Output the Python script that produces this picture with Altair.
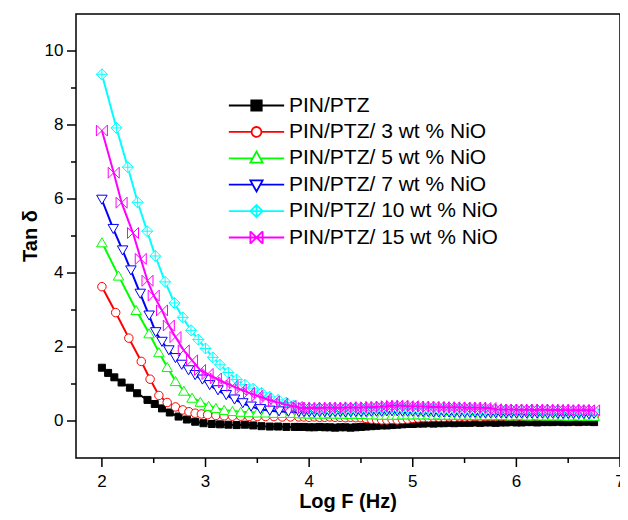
import altair as alt
import pandas as pd

names = ["PIN/PTZ", "PIN/PTZ/ 3 wt % NiO", "PIN/PTZ/ 5 wt % NiO",
         "PIN/PTZ/ 7 wt % NiO", "PIN/PTZ/ 10 wt % NiO", "PIN/PTZ/ 15 wt % NiO"]
colors = ["#000000", "#FF0000", "#00FF00", "#0000FF", "#00FFFF", "#FF00FF"]

# axis tick values and titles
x_major = [2, 3, 4, 5, 6, 7]
x_minor = [2.5, 3.5, 4.5, 5.5, 6.5]
y_major = [0, 2, 4, 6, 8, 10]
y_minor = [1, 3, 5, 7, 9]
x_title = "Log F (Hz)"
y_title = "Tan δ"

flat_x = [3.90, 3.95, 4.00, 4.05, 4.10, 4.15, 4.20, 4.25, 4.30, 4.35, 4.40, 4.45, 4.50,
          4.55, 4.60, 4.65, 4.70, 4.75, 4.80, 4.85, 4.90, 4.95, 5.00,
          5.05, 5.10, 5.15, 5.20, 5.25, 5.30, 5.35, 5.40, 5.45, 5.50, 5.55, 5.60, 5.65, 5.70,
          5.75, 5.80, 5.85, 5.90, 5.95, 6.00, 6.05, 6.10, 6.15, 6.20, 6.25, 6.30, 6.35, 6.40,
          6.45, 6.50, 6.55, 6.60, 6.65, 6.70, 6.75]

x_black = [2.00, 2.06, 2.12, 2.19, 2.27, 2.34, 2.44, 2.51, 2.58, 2.655, 2.74, 2.82, 2.90,
           2.98, 3.06, 3.14, 3.22, 3.30, 3.38, 3.46, 3.54, 3.62, 3.70, 3.78, 3.86]
y_black = [1.44, 1.30, 1.18, 1.04, 0.90, 0.75, 0.57, 0.46, 0.34, 0.23, 0.12, 0.04, -0.02,
           -0.06, -0.08, -0.09, -0.10, -0.11, -0.10, -0.12, -0.14, -0.15, -0.15, -0.16, -0.16]
f_black = [-0.16, -0.16, -0.17, -0.17, -0.16, -0.17, -0.17, -0.18, -0.17, -0.17, -0.18, -0.17, -0.16,
           -0.15, -0.14, -0.13, -0.12, -0.12, -0.11, -0.10, -0.09, -0.08, -0.08,
           -0.07, -0.07, -0.06, -0.07, -0.06, -0.06, -0.05, -0.06, -0.05, -0.05,
           -0.05, -0.04, -0.05, -0.04, -0.04, -0.05, -0.04, -0.04, -0.03, -0.04,
           -0.04, -0.03, -0.03, -0.04, -0.03, -0.03, -0.03, -0.02, -0.03, -0.03,
           -0.02, -0.03, -0.02, -0.02, -0.03]

x_red = [2.00, 2.133, 2.26, 2.38, 2.465, 2.55, 2.63, 2.71, 2.78, 2.84, 2.90, 2.96, 3.02,
         3.10, 3.18, 3.26, 3.34, 3.42, 3.50, 3.58, 3.66, 3.74, 3.82]
y_red = [3.63, 2.93, 2.24, 1.61, 1.13, 0.69, 0.50, 0.38, 0.30, 0.25, 0.21, 0.19, 0.17,
         0.15, 0.14, 0.13, 0.13, 0.12, 0.12, 0.12, 0.12, 0.11, 0.11]
f_red = [0.11, 0.11, 0.10, 0.11, 0.10, 0.10, 0.11, 0.10, 0.10, 0.09, 0.10, 0.09, 0.09,
         0.07, 0.05, 0.04, 0.03, 0.03, 0.04, 0.03, 0.04, 0.05, 0.07,
         0.08, 0.09, 0.09, 0.10, 0.10, 0.10, 0.11, 0.10, 0.11, 0.11,
         0.11, 0.12, 0.11, 0.12, 0.12, 0.12, 0.13, 0.12, 0.13, 0.12,
         0.13, 0.13, 0.12, 0.13, 0.13, 0.13, 0.12, 0.13, 0.13, 0.12,
         0.13, 0.13, 0.12, 0.13, 0.12]

x_green = [2.00, 2.16, 2.33, 2.455, 2.55, 2.63, 2.71, 2.79, 2.87, 2.95, 3.03, 3.10, 3.18,
           3.26, 3.34, 3.42, 3.50, 3.58, 3.66, 3.74, 3.82]
y_green = [4.83, 3.93, 3.00, 2.37, 1.86, 1.46, 1.08, 0.82, 0.63, 0.52, 0.41, 0.35, 0.30,
           0.27, 0.25, 0.24, 0.23, 0.23, 0.22, 0.22, 0.22]
f_green = [0.21, 0.21, 0.20, 0.21, 0.20, 0.20, 0.21, 0.20, 0.20, 0.20, 0.19, 0.20, 0.19,
           0.19, 0.18, 0.18, 0.17, 0.17, 0.17, 0.17, 0.18, 0.18, 0.18,
           0.18, 0.18, 0.18, 0.17, 0.18, 0.17, 0.17, 0.17, 0.17, 0.17,
           0.17, 0.16, 0.17, 0.16, 0.16, 0.16, 0.16, 0.16, 0.15, 0.16,
           0.16, 0.15, 0.15, 0.16, 0.15, 0.15, 0.15, 0.15, 0.15, 0.14,
           0.15, 0.15, 0.14, 0.15, 0.14]

x_blue = [2.00, 2.11, 2.20, 2.28, 2.37, 2.456, 2.52, 2.58, 2.646, 2.71, 2.77, 2.836, 2.90,
          2.97, 3.04, 3.12, 3.20, 3.28, 3.36, 3.44, 3.53, 3.62, 3.71, 3.80]
y_blue = [5.98, 5.19, 4.61, 4.07, 3.44, 2.85, 2.40, 2.14, 1.91, 1.70, 1.52, 1.37, 1.24,
          1.12, 0.97, 0.83, 0.70, 0.58, 0.48, 0.39, 0.32, 0.28, 0.26, 0.25]
f_blue = [0.24, 0.24, 0.24, 0.23, 0.24, 0.24, 0.23, 0.24, 0.24, 0.23, 0.24, 0.24, 0.24,
          0.24, 0.25, 0.25, 0.25, 0.26, 0.26, 0.26, 0.25, 0.25, 0.25,
          0.24, 0.24, 0.24, 0.23, 0.23, 0.23, 0.23, 0.22, 0.22, 0.22,
          0.22, 0.22, 0.21, 0.21, 0.21, 0.21, 0.21, 0.20, 0.21, 0.20,
          0.20, 0.20, 0.20, 0.20, 0.20, 0.19, 0.20, 0.19, 0.19, 0.19,
          0.19, 0.19, 0.19, 0.18, 0.19]

x_cyan = [2.00, 2.14, 2.25, 2.345, 2.437, 2.515, 2.61, 2.70, 2.78, 2.86, 2.93, 3.00, 3.07,
          3.14, 3.22, 3.30, 3.38, 3.46, 3.54, 3.62, 3.70, 3.78, 3.85]
y_cyan = [9.37, 7.92, 6.86, 5.91, 5.13, 4.46, 3.76, 3.19, 2.80, 2.45, 2.20, 1.96, 1.72,
          1.52, 1.31, 1.12, 0.98, 0.87, 0.76, 0.65, 0.57, 0.50, 0.42]
f_cyan = [0.36, 0.34, 0.33, 0.33, 0.32, 0.33, 0.32, 0.32, 0.33, 0.32, 0.32, 0.33, 0.33,
          0.33, 0.34, 0.34, 0.35, 0.36, 0.36, 0.36, 0.35, 0.35, 0.34,
          0.34, 0.33, 0.33, 0.33, 0.32, 0.32, 0.32, 0.32, 0.32, 0.31,
          0.31, 0.31, 0.31, 0.30, 0.30, 0.30, 0.30, 0.29, 0.30, 0.29,
          0.29, 0.29, 0.29, 0.29, 0.28, 0.29, 0.28, 0.28, 0.28, 0.28,
          0.28, 0.27, 0.28, 0.28, 0.27]

x_mag = [2.00, 2.114, 2.19, 2.30, 2.375, 2.44, 2.50, 2.58, 2.646, 2.71, 2.79, 2.87, 2.947,
         3.02, 3.10, 3.18, 3.26, 3.34, 3.42, 3.50, 3.58, 3.66, 3.74, 3.82, 3.88]
y_mag = [7.85, 6.71, 5.90, 5.08, 4.38, 3.79, 3.39, 2.99, 2.58, 2.27, 1.91, 1.64, 1.38,
         1.27, 1.15, 1.04, 0.95, 0.85, 0.76, 0.68, 0.60, 0.53, 0.47, 0.41, 0.38]
f_mag = [0.36, 0.35, 0.35, 0.36, 0.35, 0.36, 0.36, 0.35, 0.36, 0.36, 0.37, 0.36, 0.37,
         0.37, 0.38, 0.38, 0.39, 0.40, 0.41, 0.41, 0.41, 0.40, 0.40,
         0.39, 0.39, 0.38, 0.38, 0.38, 0.37, 0.37, 0.37, 0.37, 0.36,
         0.36, 0.36, 0.36, 0.35, 0.35, 0.32, 0.31, 0.31, 0.31, 0.31,
         0.30, 0.31, 0.30, 0.30, 0.31, 0.30, 0.30, 0.30, 0.30, 0.29,
         0.30, 0.29, 0.30, 0.29, 0.29]

series_x = [x_black, x_red, x_green, x_blue, x_cyan, x_mag]
series_y = [y_black, y_red, y_green, y_blue, y_cyan, y_mag]
series_f = [f_black, f_red, f_green, f_blue, f_cyan, f_mag]

rows = []
for name, xs, ys, fs in zip(names, series_x, series_y, series_f):
    for xv, yv in zip(xs + flat_x, ys + fs):
        rows.append({"series": name, "x": xv, "y": yv})
df = pd.DataFrame(rows)

marker_shapes = ["square", "circle", "triangle-up", "triangle-down",
                 "M0,-1L1,0L0,1L-1,0ZM0,-1V1M-1,0H1",
                 "M-1,-1L1,1M1,-1L-1,1M-1,-1V1M1,-1V1"]
marker_sizes = [49, 72, 110, 110, 121, 121]
marker_fills = ["#000000", "white", "white", "white", "white", "transparent"]

legend_shapes = [
    "M-4.5,0H4.5M-0.85,-0.85H0.85V0.85H-0.85Z",
    "M-4.5,0H-0.8M0.8,0H4.5M-0.8,0A0.8,0.8,0,1,0,0.8,0A0.8,0.8,0,1,0,-0.8,0Z",
    "M-4.5,0H-0.61M0.61,0H4.5M0,-1.1L1,0.7L-1,0.7Z",
    "M-4.5,0H-0.61M0.61,0H4.5M0,1.1L1,-0.7L-1,-0.7Z",
    "M-4.5,0H4.5M0,-1L1,0L0,1L-1,0ZM0,-1V1",
    "M-4.5,0H4.5M-1,-1L1,1M1,-1L-1,1M-1,-1V1M1,-1V1",
]
legend_fills = ["#000000", "white", "white", "white", "white", "transparent"]

x_lo, x_hi = 1.75, 7
y_lo, y_hi = -1, 11
xscale = alt.Scale(domain=[x_lo, x_hi], nice=False, zero=False)
yscale = alt.Scale(domain=[y_lo, y_hi], nice=False, zero=False)
FONT = "Liberation Sans"

base = alt.Chart(df)
layers = []
for i, name in enumerate(names):
    sub = base.transform_filter(alt.datum.series == name)
    line = sub.mark_line(color=colors[i], strokeWidth=2).encode(
        x=alt.X("x:Q", scale=xscale, axis=None),
        y=alt.Y("y:Q", scale=yscale, axis=None),
    )
    pts = sub.mark_point(shape=marker_shapes[i], size=marker_sizes[i], filled=True,
                         fill=marker_fills[i], stroke=colors[i], strokeWidth=1,
                         opacity=1).encode(
        x=alt.X("x:Q", axis=None),
        y=alt.Y("y:Q", axis=None),
    )
    layers += [line, pts]

# tick marks drawn outward from the frame
def xticks(vals, length):
    tdf = pd.DataFrame({"v": vals, "b": [y_lo] * len(vals)})
    return alt.Chart(tdf).mark_tick(
        orient="vertical", size=length, thickness=1.5, color="black", opacity=1,
        yOffset=length / 2).encode(
        x=alt.X("v:Q", axis=None), y=alt.Y("b:Q", axis=None))

def yticks(vals, length):
    tdf = pd.DataFrame({"v": vals, "b": [x_lo] * len(vals)})
    return alt.Chart(tdf).mark_tick(
        orient="horizontal", size=length, thickness=1.5, color="black", opacity=1,
        xOffset=-length / 2).encode(
        y=alt.Y("v:Q", axis=None), x=alt.X("b:Q", axis=None))

layers += [xticks(x_major, 9), xticks(x_minor, 5), yticks(y_major, 9), yticks(y_minor, 5)]

# tick labels
xl_df = pd.DataFrame({"v": x_major, "b": [y_lo] * len(x_major)})
x_labels = alt.Chart(xl_df).mark_text(
    font=FONT, fontSize=17, color="black", align="center", baseline="middle",
    yOffset=24).encode(
    x=alt.X("v:Q", axis=None), y=alt.Y("b:Q", axis=None), text=alt.Text("v:Q", format="d"))

yl_df = pd.DataFrame({"v": y_major, "b": [x_lo] * len(y_major)})
y_labels = alt.Chart(yl_df).mark_text(
    font=FONT, fontSize=17, color="black", align="right", baseline="middle",
    xOffset=-12.5).encode(
    y=alt.Y("v:Q", axis=None), x=alt.X("b:Q", axis=None), text=alt.Text("v:Q", format="d"))

# axis titles, centred on each axis
xt_df = pd.DataFrame({"t": [x_title], "px": [(x_lo + x_hi) / 2], "py": [y_lo]})
x_title_mark = alt.Chart(xt_df).mark_text(
    font=FONT, fontSize=20, fontWeight="bold", color="black", align="center",
    baseline="alphabetic", yOffset=50).encode(
    x=alt.X("px:Q", axis=None), y=alt.Y("py:Q", axis=None), text="t:N")

yt_df = pd.DataFrame({"t": [y_title], "px": [x_lo], "py": [(y_lo + y_hi) / 2]})
y_title_mark = alt.Chart(yt_df).mark_text(
    font=FONT, fontSize=20, fontWeight="bold", color="black", align="center",
    baseline="middle", angle=270, xOffset=-45).encode(
    x=alt.X("px:Q", axis=None), y=alt.Y("py:Q", axis=None), text="t:N")

layers += [x_labels, y_labels, x_title_mark, y_title_mark]

leg = alt.Legend(orient="none", legendX=170, legendY=81, title=None,
                 labelFont=FONT, labelFontSize=21, labelColor="black",
                 labelLimit=400, labelOffset=22, rowPadding=4.4, symbolSize=151,
                 symbolStrokeWidth=1.8, symbolOpacity=1, padding=0)

legend_layer = base.transform_filter("datum.x > 100").mark_point(
    filled=True, strokeWidth=1.8, opacity=1).encode(
    x=alt.X("x:Q", axis=None),
    y=alt.Y("y:Q", axis=None),
    stroke=alt.Stroke("series:N", scale=alt.Scale(domain=names, range=colors), legend=leg),
    fill=alt.Fill("series:N", scale=alt.Scale(domain=names, range=legend_fills), legend=leg),
    shape=alt.Shape("series:N", scale=alt.Scale(domain=names, range=legend_shapes), legend=leg),
)
layers.append(legend_layer)

chart = alt.layer(*layers).properties(
    width=544, height=444,
    padding={"left": 68, "top": 6, "right": 0, "bottom": 54},
    autosize=alt.AutoSizeParams(type="none"),
    background="white",
).configure_view(stroke="black", strokeWidth=1.5)

chart.save("out.html", embed_options={"renderer": "svg", "actions": False})
